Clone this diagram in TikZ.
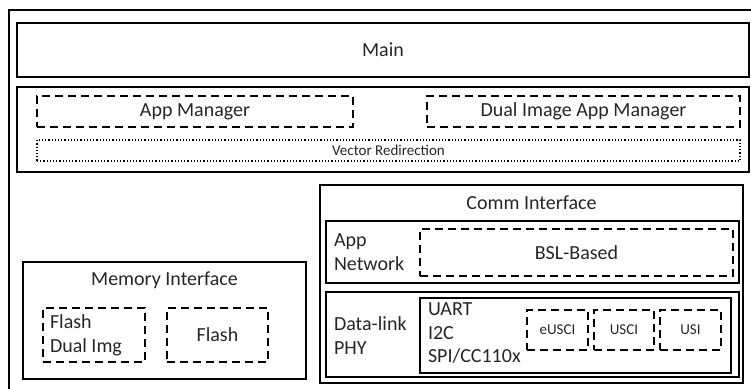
\documentclass[tikz,border=0pt]{standalone}
\usepackage{fontspec}
\setmainfont{Carlito}
\usetikzlibrary{calc}

\begin{document}
\begin{tikzpicture}[x=0.5pt,y=-0.5pt,line width=1pt,
                    every node/.style={text=black!85,font=\fontsize{10}{12}\selectfont},
                    blk/.style={rectangle,draw,inner sep=0pt,outer sep=0pt},
                    dash box/.style={blk,dash pattern=on 4pt off 2.5pt},
                    dot box/.style={blk,line width=0.8pt,dash pattern=on 0.6pt off 1pt},
                    small/.style={font=\fontsize{7.5}{9}\selectfont}]

  \useasboundingbox (0,0) rectangle (751,389);
  \draw (9,389) -- (9,10) -- (751,10);

  \node[blk, minimum width=366pt, minimum height=27pt]     (main)   at (383,50)     {Main};
  \node[blk, minimum width=366pt, minimum height=42.5pt]   (apps)   at (383,129.5)  {};
  \node[dash box, minimum width=158pt, minimum height=15.5pt]   (appmgr) at (195,111.5)  {App Manager};
  \node[dash box, minimum width=156.5pt, minimum height=15.5pt] (dualmgr) at (583.5,111.5) {Dual Image App Manager};
  \node[dot box, small, minimum width=351.5pt, minimum height=10.5pt] (vecred) at (388.5,150.5) {Vector Redirection};

  \node[blk, minimum width=141.5pt, minimum height=58.5pt] (mem)    at (164.5,320.5) {};
  \node                                                     (memlbl) at (164.5,280)   {Memory Interface};
  \node[dash box, minimum width=51pt, minimum height=27pt]   (flashdual) at (94,335)  {};
  \node[align=left, anchor=west, inner sep=0pt]             (fdlbl)  at (49,335)     {Flash\\Dual Img};
  \node[dash box, minimum width=50.5pt, minimum height=27pt] (flash)  at (217.5,335)  {Flash};

  \node[blk, minimum width=211.5pt, minimum height=99pt]   (comm)   at (531.5,284)   {};
  \node                                                     (commlbl) at (531.5,203)  {Comm Interface};
  \node[blk, minimum width=206.5pt, minimum height=31pt]   (appnet) at (532.5,252)   {};
  \node[align=left, anchor=west, inner sep=0pt]             (netlbl) at (333,252)     {App\\Network};
  \node[dash box, minimum width=156.5pt, minimum height=23.5pt] (bsl) at (576.5,252.5) {BSL-Based};
  \node[blk, minimum width=206.5pt, minimum height=42.5pt] (dlink)  at (532.5,334.5) {};
  \node[align=left, anchor=west, inner sep=0pt]             (dllbl)  at (333,336)     {Data-link\\PHY};
  \node[align=left, anchor=north west, inner sep=0pt,
        font=\fontsize{10}{11.6}\selectfont]                (buses)  at (427,302)     {UART\\I2C\\SPI/CC110x};
  \node[blk, minimum width=155.5pt, minimum height=37.5pt] (phy)    at (575.5,335.5) {};
  \node[dash box, small, minimum width=30.5pt, minimum height=20pt] (eusci) at (557.5,330) {eUSCI};
  \node[dash box, small, minimum width=30pt, minimum height=20pt]   (usci)  at (624,330)   {USCI};
  \node[dash box, small, minimum width=30.5pt, minimum height=20pt] (usi)   at (690.5,330) {USI};
\end{tikzpicture}
\end{document}
